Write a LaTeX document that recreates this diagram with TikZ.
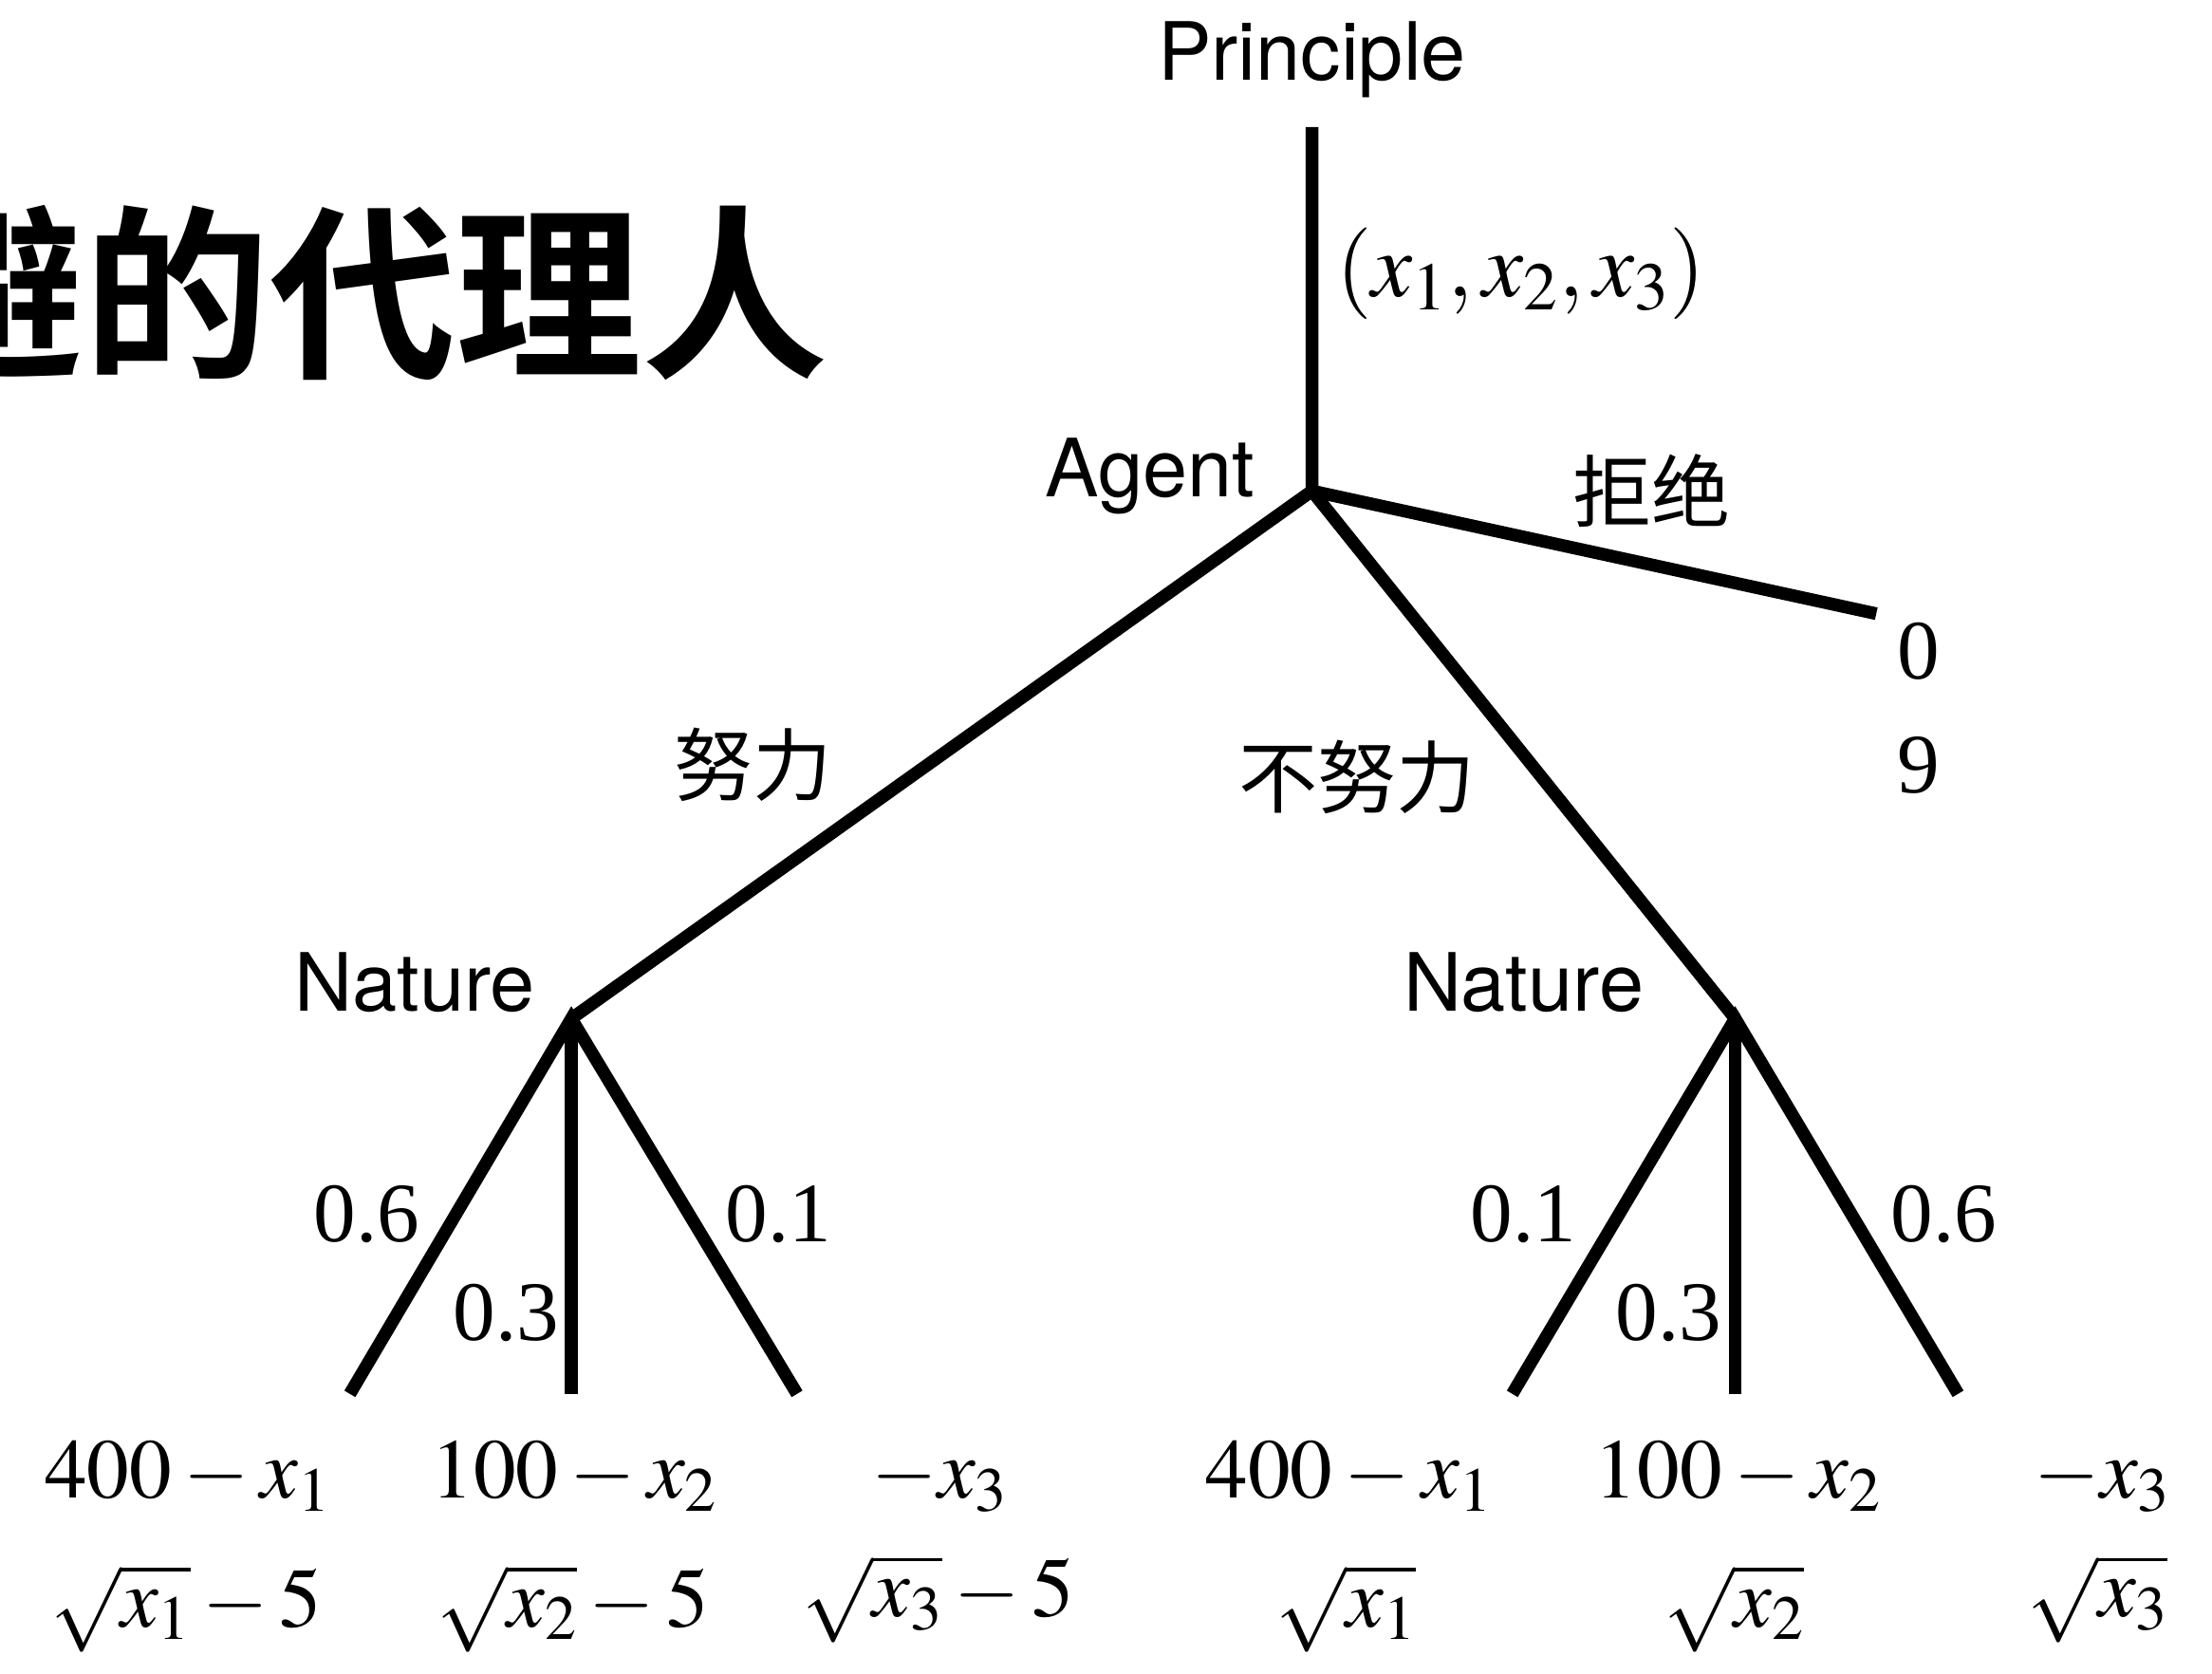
\documentclass[tikz,border=0pt]{standalone}
\usepackage{mathptmx}
\usepackage{fontspec}
\setmainfont{Liberation Serif}
\newfontfamily\hv{TeX Gyre Heros}
\newfontfamily\cjk{Noto Sans CJK SC}
\newfontfamily\cjkbold{Noto Sans CJK SC Bold}
\newcommand\myrt[1]{\sqrt{\rule[-0.3em]{0pt}{0.9em}#1}}
\begin{document}
\begin{tikzpicture}[x=1pt,y=-1pt,
  br/.style={line width=9pt, line cap=butt, line join=miter},
  hvl/.style={font=\hv\fontsize{57}{64}\selectfont, inner sep=0pt},
  mt/.style={font=\fontsize{60}{70}\selectfont, inner sep=0pt},
  cj/.style={font=\cjk\fontsize{56}{64}\selectfont, inner sep=0pt},
  ttl/.style={font=\cjkbold\fontsize{132}{140}\selectfont, inner sep=0pt}]
\useasboundingbox (0,0) rectangle (1568,1186);
% tree points
\coordinate (P) at (930,90);
\coordinate (A) at (930,348);
\coordinate (R) at (1330,435);
\coordinate (NL) at (405,722);
\coordinate (NR) at (1230,722);
\coordinate (L1) at (248,988);
\coordinate (L2) at (405,988);
\coordinate (L3) at (565,988);
\coordinate (R1) at (1072,988);
\coordinate (R2) at (1230,988);
\coordinate (R3) at (1388,988);
% branches
\draw[br] (P) -- (A) -- (R);
\draw[br] (NL) -- (A) -- (NR);
\draw[br] (L1) -- (NL) -- (L3);
\draw[br] (NL) -- (L2);
\draw[br] (R1) -- (NR) -- (R3);
\draw[br] (NR) -- (R2);
% title
\node[ttl, anchor=west] (title) at (-73,208) {避的代理人};
% player labels
\node[hvl, anchor=base] (tP) at (930,57) {Principle};
\node[hvl, anchor=base] (tA) at (815,352) {Agent};
\node[hvl, anchor=base] (tNL) at (294,717) {Nature};
\node[hvl, anchor=base] (tNR) at (1080,717) {Nature};
% action labels
\node[mt, font=\fontsize{65}{72}\selectfont, anchor=base] (contract) at (1078,210) {$(x_1,x_2,x_3)$};
\node[cj] (rej) at (1171,348) {拒绝};
\node[cj] (eff) at (534,542) {努力};
\node[cj] (neff) at (962,551) {不努力};
\node[mt, anchor=base] (z0) at (1360,481) {0};
\node[mt, anchor=base] (z9) at (1360,562) {9};
% probabilities
\node[mt, anchor=base] (pl1) at (260,880) {0.6};
\node[mt, anchor=base] (pl2) at (359,950) {0.3};
\node[mt, anchor=base] (pl3) at (552,880) {0.1};
\node[mt, anchor=base] (pr1) at (1080,880) {0.1};
\node[mt, anchor=base] (pr2) at (1183,950) {0.3};
\node[mt, anchor=base] (pr3) at (1378,880) {0.6};
% payoffs left
\node[mt, anchor=base] (a1) at (133,1062) {$400-x_1$};
\node[mt, anchor=base] (a2) at (407,1062) {$100-x_2$};
\node[mt, anchor=base] (a3) at (666,1062) {$-x_3$};
\node[mt, anchor=base] (b1) at (132,1153) {$\myrt{x_1}-5$};
\node[mt, anchor=base] (b2) at (406,1153) {$\myrt{x_2}-5$};
\node[mt, anchor=base] (b3) at (665,1146) {$\myrt{x_3}-5$};
% payoffs right
\node[mt, anchor=base] (c1) at (956,1062) {$400-x_1$};
\node[mt, anchor=base] (c2) at (1232,1062) {$100-x_2$};
\node[mt, anchor=base] (c3) at (1490,1062) {$-x_3$};
\node[mt, anchor=base] (d1) at (954,1153) {$\myrt{x_1}$};
\node[mt, anchor=base] (d2) at (1229,1153) {$\myrt{x_2}$};
\node[mt, anchor=base] (d3) at (1487,1146) {$\myrt{x_3}$};
\end{tikzpicture}
\end{document}
